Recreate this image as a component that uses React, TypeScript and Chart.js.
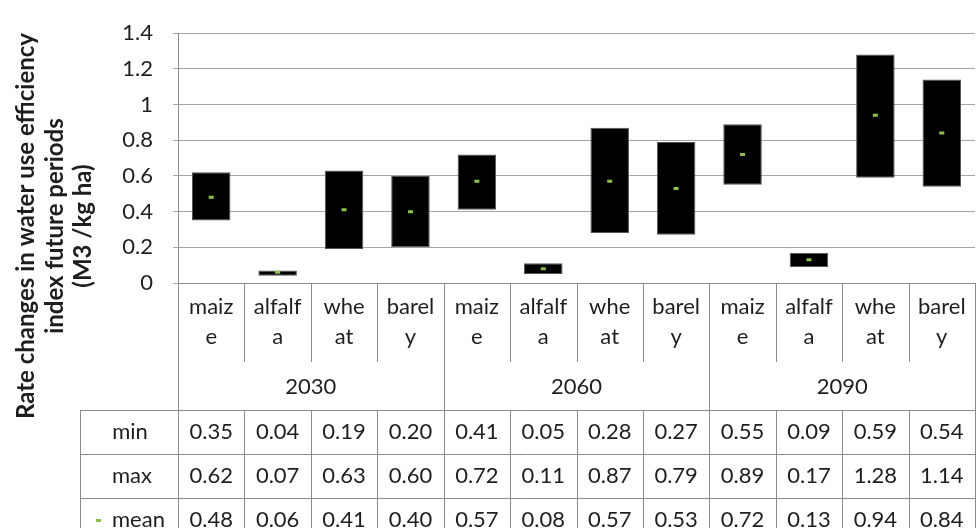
import React, { useEffect, useRef } from "react";
import { Chart, registerables } from "chart.js";

Chart.register(...registerables);

// ---- data ----
const periods = ["2030", "2060", "2090"];
const cropLines = [
  ["maiz", "e"],
  ["alfalf", "a"],
  ["whe", "at"],
  ["barel", "y"],
];
const minValues = [0.35, 0.04, 0.19, 0.2, 0.41, 0.05, 0.28, 0.27, 0.55, 0.09, 0.59, 0.54];
const maxValues = [0.62, 0.07, 0.63, 0.6, 0.72, 0.11, 0.87, 0.79, 0.89, 0.17, 1.28, 1.14];
const meanValues = [0.48, 0.06, 0.41, 0.4, 0.57, 0.08, 0.57, 0.53, 0.72, 0.13, 0.94, 0.84];
const rowNames = ["min", "max", "mean"];
const yTitle = ["Rate changes in water use efficiency", "index future periods", "(M3 /kg ha)"];
const yMin = 0;
const yMax = 1.4;
const yStep = 0.2;

const FONT = "Lato, 'Open Sans', sans-serif";
const MEAN_COLOR = "#8fc04f";
const LINE_COLOR = "#8c8c8c";
const TEXT_COLOR = "#1e1e1e";

export default function App() {
  const ref = useRef<HTMLCanvasElement>(null);

  useEffect(() => {
    document.body.style.margin = "0";
    const canvas = ref.current;
    if (!canvas) return;

    const labels = periods.flatMap(() => cropLines.map((l) => l.join("")));
    const rows = [minValues, maxValues, meanValues];

    const tablePlugin = {
      id: "dataTable",
      afterDraw(chart: any) {
        const { ctx, chartArea, scales } = chart;
        const x = scales.x;
        const n = labels.length;
        const colW = x.getPixelForValue(1) - x.getPixelForValue(0);
        const left = x.getPixelForValue(0) - colW / 2;
        const right = x.getPixelForValue(n - 1) + colW / 2;
        const top = chartArea.bottom;
        const catRowEnd = top + 79;
        const yearRowEnd = top + 127;
        const rowH = 44;
        const labelLeft = 80;
        const bottomEdge = chart.height + 10;

        ctx.save();
        ctx.strokeStyle = LINE_COLOR;
        ctx.lineWidth = 1;
        ctx.beginPath();
        ctx.moveTo(left, top + 0.5);
        ctx.lineTo(right, top + 0.5);
        for (let r = 0; r < 3; r++) {
          const yy = Math.round(yearRowEnd + r * rowH) + 0.5;
          ctx.moveTo(labelLeft, yy);
          ctx.lineTo(right, yy);
        }
        ctx.moveTo(labelLeft + 0.5, yearRowEnd);
        ctx.lineTo(labelLeft + 0.5, bottomEdge);
        for (let i = 0; i <= n; i++) {
          const xx = Math.round(left + i * colW) + 0.5;
          if (i % 4 === 0) {
            ctx.moveTo(xx, top);
            ctx.lineTo(xx, bottomEdge);
          } else {
            ctx.moveTo(xx, top);
            ctx.lineTo(xx, catRowEnd);
            ctx.moveTo(xx, yearRowEnd);
            ctx.lineTo(xx, bottomEdge);
          }
        }
        ctx.stroke();

        ctx.fillStyle = TEXT_COLOR;
        ctx.font = `22px ${FONT}`;
        ctx.textAlign = "center";
        ctx.textBaseline = "middle";
        for (let i = 0; i < n; i++) {
          const cx = x.getPixelForValue(i);
          const lines = cropLines[i % 4];
          ctx.fillText(lines[0], cx, top + 24);
          ctx.fillText(lines[1], cx, top + 54);
          rows.forEach((vals, r) => {
            ctx.fillText(vals[i].toFixed(2), cx, yearRowEnd + r * rowH + 22);
          });
        }
        periods.forEach((p, g) => {
          const cx = left + (g * 4 + 2) * colW;
          ctx.fillText(p, cx, top + 104);
        });
        const labelCx = (labelLeft + left) / 2;
        ctx.fillText(rowNames[0], labelCx + 1, yearRowEnd + 22);
        ctx.fillText(rowNames[1], labelCx + 3, yearRowEnd + rowH + 22);
        ctx.textAlign = "left";
        const my = yearRowEnd + 2 * rowH + 22;
        ctx.fillText(rowNames[2], 112, my);
        ctx.fillStyle = MEAN_COLOR;
        ctx.fillRect(96, my - 1, 5, 3);

        // y axis title
        ctx.fillStyle = TEXT_COLOR;
        ctx.font = `bold 24px ${FONT}`;
        ctx.textAlign = "center";
        ctx.textBaseline = "alphabetic";
        const baselines = [34, 62.5, 91];
        yTitle.forEach((t, k) => {
          ctx.save();
          ctx.translate(baselines[k], 226);
          ctx.rotate(-Math.PI / 2);
          ctx.fillText(t, 0, 0);
          ctx.restore();
        });
        ctx.restore();
      },
    };

    const chart = new Chart(canvas, {
      type: "bar",
      data: {
        labels,
        datasets: [
          {
            type: "bar",
            label: "range",
            data: minValues.map((v, i) => [v, maxValues[i]]) as any,
            backgroundColor: "#000000",
            borderColor: "#555555",
            borderWidth: 1,
            borderSkipped: false,
            barPercentage: 0.58,
            categoryPercentage: 1,
            order: 2,
          },
          {
            type: "line",
            label: "mean",
            data: meanValues,
            showLine: false,
            pointStyle: "line",
            pointRadius: 2.5,
            pointBorderWidth: 3,
            borderColor: MEAN_COLOR,
            backgroundColor: MEAN_COLOR,
            order: 1,
          } as any,
        ],
      },
      options: {
        responsive: false,
        animation: false,
        events: [],
        layout: { padding: { left: 0, right: 0, top: 22, bottom: 245 } },
        plugins: {
          legend: { display: false },
          tooltip: { enabled: false },
        },
        scales: {
          x: { display: false, offset: true },
          y: {
            min: yMin,
            max: yMax,
            ticks: {
              stepSize: yStep,
              padding: 20,
              color: TEXT_COLOR,
              font: { family: FONT, size: 22 },
              callback: (v: any) => String(Number(Number(v).toFixed(1))),
            },
            grid: { color: "#a6a6a6", lineWidth: 1, tickLength: 5 },
            border: { display: true, color: LINE_COLOR },
            afterFit: (scale: any) => {
              scale.width = 178;
            },
          },
        },
      },
      plugins: [tablePlugin],
    });

    return () => chart.destroy();
  }, []);

  return (
    <div style={{ width: 978, height: 528, overflow: "hidden", position: "relative" }}>
      <canvas ref={ref} width={982} height={528} style={{ display: "block" }} />
    </div>
  );
}
